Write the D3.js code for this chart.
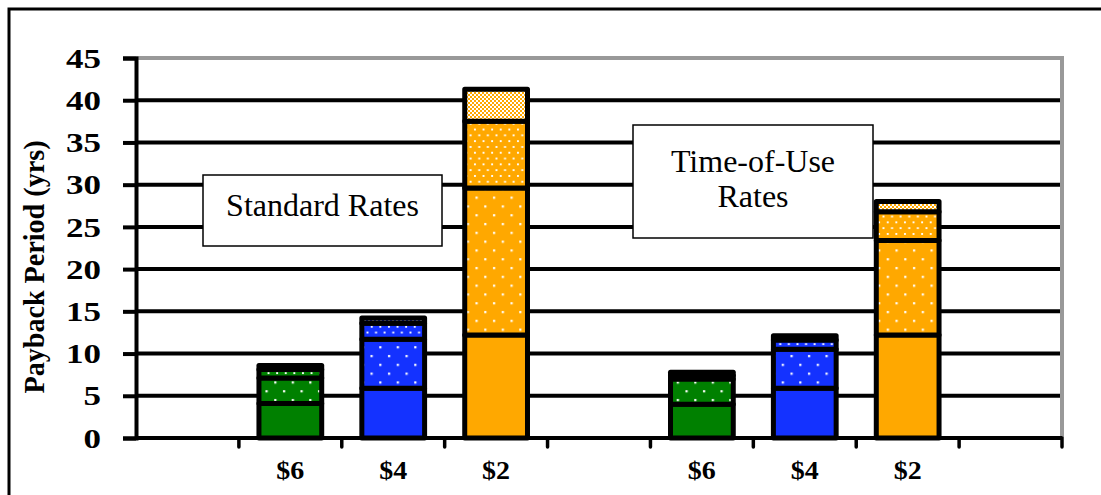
<!DOCTYPE html>
<html><head><meta charset="utf-8">
<script src="https://cdn.jsdelivr.net/npm/d3@7"></script>
<style>body{margin:0;background:#fff} svg{display:block}</style>
</head><body><svg id="chart" width="1101" height="495"></svg>
<script>
// Category slots along the x axis (empty slots keep the gaps between groups)
const slotLabels = ["", "$6", "$4", "$2", "", "$6", "$4", "$2", ""];
const barSlots   = [1, 2, 3, 5, 6, 7];
const barColors  = ["#008000", "#1432ff", "#ffa800", "#008000", "#1432ff", "#ffa800"];
// Payback components (yrs), bottom to top of each bar
const solidPart  = [4.1, 5.9, 12.2, 4.0, 5.9, 12.2];
const sparsePart = [3.0, 5.8, 17.4, 3.0, 4.6, 11.2];
const densePart  = [1.0, 1.9, 7.9, 0.4, 1.1, 3.4];
const finePart   = [0.5, 0.6, 3.8, 0.4, 0.5, 1.2];
const yTicks = [0, 5, 10, 15, 20, 25, 30, 35, 40, 45];
const groupNotes = [["Standard Rates"], ["Time-of-Use", "Rates"]];

const svg = d3.select("#chart");
const W = 1101, H = 495;
const plot = {left: 136, right: 1062, top: 58, bottom: 438};
const serif = "'Liberation Serif','Times New Roman',serif";

const x = d3.scaleBand().domain(d3.range(slotLabels.length))
  .range([plot.left, plot.right]).paddingInner(0).paddingOuter(0);
const y = d3.scaleLinear().domain([0, 45]).range([plot.bottom, plot.top]);

// fill patterns: solid, sparse dots, dense dots, fine lattice
const defs = svg.append("defs");
const patternKinds = ["solid", "sparse", "dense", "fine"];
const colorSet = Array.from(new Set(barColors));
colorSet.forEach((c, ci) => {
  // sparse dots
  let p = defs.append("pattern").attr("id", `sparse${ci}`).attr("patternUnits", "userSpaceOnUse")
    .attr("width", 17.5).attr("height", 17.6);
  p.append("rect").attr("width", 17.5).attr("height", 17.6).attr("fill", c);
  p.append("rect").attr("x", 3).attr("y", 3).attr("width", 2.2).attr("height", 2.2).attr("fill", "#fff");
  p.append("rect").attr("x", 11.75).attr("y", 11.8).attr("width", 2.2).attr("height", 2.2).attr("fill", "#fff");
  // dense dots
  p = defs.append("pattern").attr("id", `dense${ci}`).attr("patternUnits", "userSpaceOnUse")
    .attr("width", 8.6).attr("height", 11.6);
  p.append("rect").attr("width", 8.6).attr("height", 11.6).attr("fill", c);
  p.append("rect").attr("x", 1).attr("y", 1).attr("width", 1.9).attr("height", 1.9).attr("fill", "#fff");
  p.append("rect").attr("x", 5.3).attr("y", 6.8).attr("width", 1.9).attr("height", 1.9).attr("fill", "#fff");
  // fine lattice
  p = defs.append("pattern").attr("id", `fine${ci}`).attr("patternUnits", "userSpaceOnUse")
    .attr("width", 4).attr("height", 4);
  p.append("rect").attr("width", 4).attr("height", 4).attr("fill", c);
  p.append("rect").attr("x", 0).attr("y", 0).attr("width", 2).attr("height", 2).attr("fill", "#fff");
  p.append("rect").attr("x", 2).attr("y", 2).attr("width", 2).attr("height", 2).attr("fill", "#fff");
});
const fillFor = (kind, color) => {
  const ci = colorSet.indexOf(color);
  return kind === "solid" ? color : `url(#${kind}${ci})`;
};

// outer frame
svg.append("rect").attr("x", 9).attr("y", 9).attr("width", W + 50).attr("height", H + 50)
  .attr("fill", "#fff").attr("stroke", "#000").attr("stroke-width", 3);

// horizontal gridlines
svg.append("g").selectAll("line").data(yTicks.filter(t => t > 0 && t < 45)).join("line")
  .attr("x1", plot.left).attr("x2", plot.right)
  .attr("y1", d => y(d)).attr("y2", d => y(d))
  .attr("stroke", "#000").attr("stroke-width", 4);
// top and right plot border (grey)
svg.append("path")
  .attr("d", `M${plot.left},${y(45)}H${plot.right}V${plot.bottom}`)
  .attr("fill", "none").attr("stroke", "#999").attr("stroke-width", 4);

// text boxes naming the two rate groups
const noteBoxes = [
  {x: 203, y: 175, w: 239, h: 71, base: 216},
  {x: 633, y: 125, w: 240, h: 113, base: 172}
];
noteBoxes.forEach((b, i) => {
  const g = svg.append("g");
  g.append("rect").attr("x", b.x).attr("y", b.y).attr("width", b.w).attr("height", b.h)
    .attr("fill", "#fff").attr("stroke", "#000").attr("stroke-width", 1.5);
  groupNotes[i].forEach((t, j) => {
    g.append("text").attr("x", b.x + b.w / 2).attr("y", b.base + j * 35)
      .attr("text-anchor", "middle")
      .attr("font-family", serif).attr("font-size", 32).text(t);
  });
});

// stacked bars
const rows = barSlots.map((s, i) => ({
  slot: s, color: barColors[i],
  solid: solidPart[i], sparse: sparsePart[i], dense: densePart[i], fine: finePart[i]
}));
const stacked = d3.stack().keys(patternKinds)(rows);
const bw = x.bandwidth() * 0.61;
const gBars = svg.append("g");
stacked.forEach(layer => {
  gBars.selectAll(null).data(layer).join("rect")
    .attr("x", d => x(d.data.slot) + (x.bandwidth() - bw) / 2)
    .attr("width", bw)
    .attr("y", d => y(d[1]))
    .attr("height", d => y(d[0]) - y(d[1]))
    .attr("fill", d => fillFor(layer.key, d.data.color))
    .attr("stroke", "#000").attr("stroke-width", 5).attr("stroke-linejoin", "round");
});

// y axis
const yAxis = svg.append("g").attr("transform", `translate(${plot.left},0)`)
  .call(d3.axisLeft(y).tickValues(yTicks).tickSize(13).tickPadding(22));
yAxis.select(".domain").attr("stroke", "#000").attr("stroke-width", 4);
yAxis.selectAll(".tick line").attr("stroke", "#000").attr("stroke-width", 4);
yAxis.selectAll(".tick text").attr("font-family", serif).attr("font-weight", "bold")
  .attr("font-size", 27).attr("fill", "#000").attr("dy", "0.34em")
  .attr("lengthAdjust", "spacingAndGlyphs")
  .attr("textLength", d => String(d).length * 17.5);

// x axis: labels at slot centres, ticks on slot boundaries
svg.append("line").attr("x1", plot.left).attr("x2", plot.right)
  .attr("y1", plot.bottom).attr("y2", plot.bottom)
  .attr("stroke", "#000").attr("stroke-width", 4);
const bounds = d3.range(slotLabels.length + 1).map(i => i < slotLabels.length ? x(i) : plot.right);
svg.append("g").selectAll("line").data(bounds.slice(1)).join("line")
  .attr("x1", d => d).attr("x2", d => d)
  .attr("y1", plot.bottom).attr("y2", plot.bottom + 9)
  .attr("stroke", "#000").attr("stroke-width", 3.5).attr("stroke-linecap", "round");
svg.append("g").selectAll("text").data(slotLabels.map((t, i) => ({t, i})).filter(d => d.t)).join("text")
  .attr("x", d => x(d.i) + x.bandwidth() / 2).attr("y", 479)
  .attr("text-anchor", "middle").attr("font-family", serif).attr("font-weight", "bold")
  .attr("font-size", 25).attr("textLength", 28).attr("lengthAdjust", "spacingAndGlyphs")
  .text(d => d.t);

// y axis title
svg.append("text")
  .attr("transform", `translate(44,${(plot.top + plot.bottom) / 2 + 19}) rotate(-90)`)
  .attr("text-anchor", "middle").attr("font-family", serif).attr("font-weight", "bold")
  .attr("font-size", 30).attr("textLength", 253).attr("lengthAdjust", "spacingAndGlyphs")
  .text("Payback Period (yrs)");
</script></body></html>
